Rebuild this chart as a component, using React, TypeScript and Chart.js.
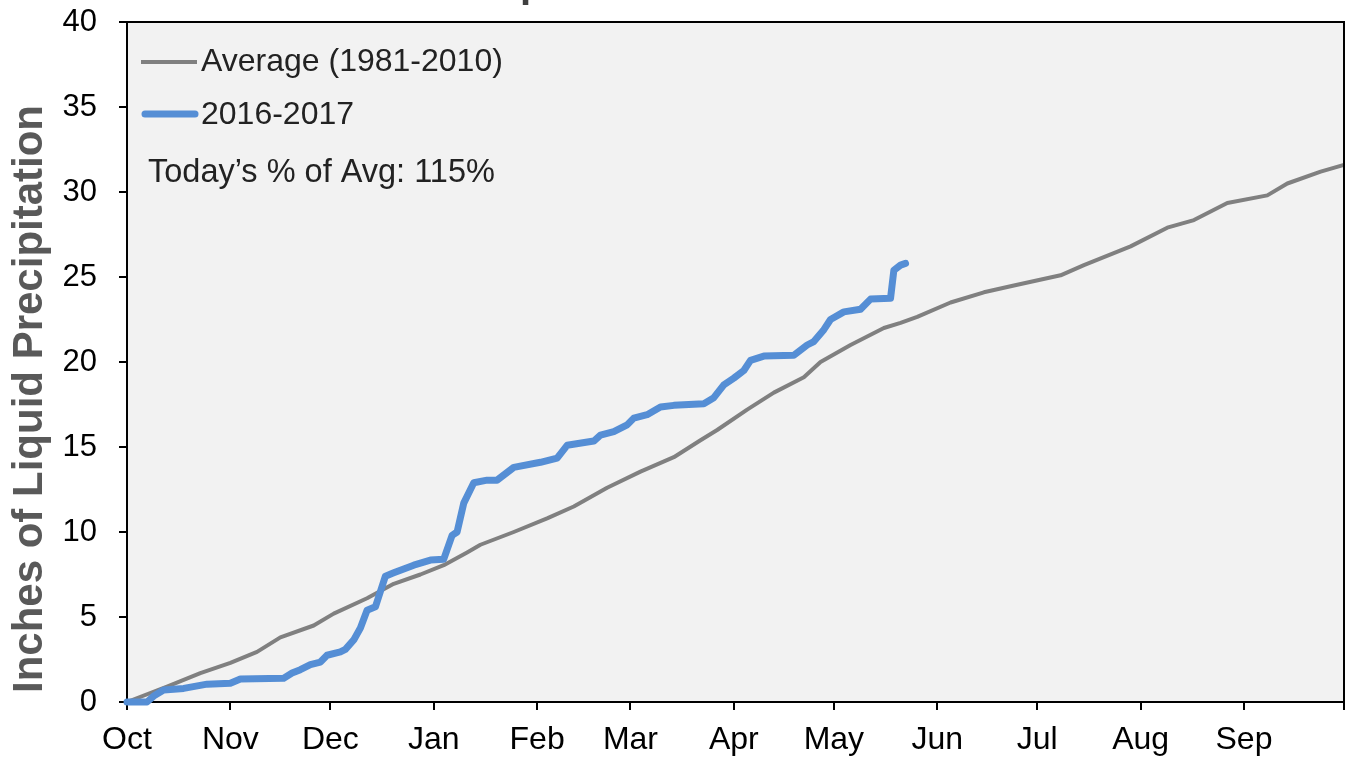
import React, { useEffect, useRef } from "react";
import { Chart, registerables } from "chart.js";

Chart.register(...registerables);

// Days since Oct 1 (water year) at which each month starts
const MONTH_TICKS = [0, 31, 61, 92, 123, 151, 182, 212, 243, 273, 304, 335, 365];
const MONTH_LABELS = ["Oct", "Nov", "Dec", "Jan", "Feb", "Mar", "Apr", "May", "Jun", "Jul", "Aug", "Sep", ""];

// Average (1981-2010) cumulative precipitation
const AVG_DAYS = [0, 12, 22, 31, 39, 46, 56, 62, 72, 80, 88, 95, 102, 106, 116, 126, 134, 144, 154, 164, 172, 177, 186, 194, 203, 208, 217, 227, 232, 237, 247, 257, 266, 280, 287, 301, 312, 320, 330, 342, 348, 358, 365];
const AVG_VALUES = [0, 0.9, 1.7, 2.3, 2.95, 3.8, 4.5, 5.2, 6.1, 6.95, 7.5, 8.05, 8.8, 9.25, 10.0, 10.8, 11.5, 12.6, 13.55, 14.4, 15.4, 16.0, 17.2, 18.2, 19.1, 20.0, 21.0, 22.0, 22.3, 22.65, 23.5, 24.1, 24.5, 25.1, 25.7, 26.8, 27.9, 28.35, 29.35, 29.8, 30.5, 31.2, 31.6];

// 2016-2017 cumulative precipitation
const CUR_DAYS = [0, 6, 8, 11, 17, 24, 31, 34, 47, 49.5, 52, 55, 58, 60, 64, 65.5, 68, 70, 72, 74.5, 76, 77.5, 80, 86, 91, 95, 97.5, 99, 101, 104, 108, 111, 116, 124, 129, 132, 140, 142, 146, 150, 152, 156, 160, 164, 173, 176, 179, 182, 185, 187, 191, 200, 204, 206, 209, 211, 215, 220, 223, 229, 230, 232, 233.5];
const CUR_VALUES = [0, 0, 0.35, 0.7, 0.8, 1.05, 1.1, 1.35, 1.4, 1.7, 1.9, 2.2, 2.35, 2.75, 2.95, 3.1, 3.65, 4.35, 5.4, 5.6, 6.5, 7.4, 7.6, 8.05, 8.35, 8.4, 9.8, 10.0, 11.7, 12.9, 13.05, 13.05, 13.8, 14.1, 14.35, 15.1, 15.35, 15.7, 15.9, 16.3, 16.7, 16.9, 17.35, 17.45, 17.55, 17.9, 18.65, 19.05, 19.5, 20.1, 20.35, 20.4, 21.0, 21.2, 21.9, 22.5, 22.95, 23.1, 23.7, 23.75, 25.4, 25.7, 25.8];

const TITLE = "Water Year Precipitation";
const Y_TITLE = "Inches of Liquid Precipitation";
const LEGEND_AVG = "Average (1981-2010)";
const LEGEND_CUR = "2016-2017";
const NOTE = "Today\u2019s % of Avg: 115%";

const FONT = "'Liberation Sans', Arial, sans-serif";
const GRAY = "#808080";
const BLUE = "#558ED5";

const decorPlugin = {
  id: "decor",
  beforeDraw(chart: any) {
    const { ctx, chartArea: a } = chart;
    ctx.save();
    ctx.fillStyle = "#ffffff";
    ctx.fillRect(0, 0, chart.width, chart.height);
    ctx.fillStyle = "#f2f2f2";
    ctx.fillRect(a.left, a.top, a.right - a.left, a.bottom - a.top);
    ctx.restore();
  },
  afterDraw(chart: any) {
    const { ctx, chartArea: a } = chart;
    ctx.save();
    // frame top/right
    ctx.strokeStyle = "#000";
    ctx.lineWidth = 2;
    ctx.beginPath();
    ctx.moveTo(a.left, a.top);
    ctx.lineTo(a.right, a.top);
    ctx.lineTo(a.right, a.bottom);
    ctx.stroke();

    // title (mostly off the top of the canvas)
    ctx.font = `bold 40px ${FONT}`;
    ctx.fillStyle = "#404040";
    ctx.textBaseline = "alphabetic";
    ctx.textAlign = "left";
    const prefix = ctx.measureText("Water Year Preci").width;
    ctx.fillText(TITLE, 520 - prefix, -3);

    // y title
    ctx.save();
    ctx.translate(42, 399);
    ctx.rotate(-Math.PI / 2);
    ctx.font = `bold 42px ${FONT}`;
    ctx.fillStyle = "#595959";
    ctx.textAlign = "center";
    ctx.textBaseline = "alphabetic";
    ctx.fillText(Y_TITLE, 0, 0);
    ctx.restore();

    // legend
    ctx.lineCap = "butt";
    ctx.strokeStyle = GRAY;
    ctx.lineWidth = 4;
    ctx.beginPath();
    ctx.moveTo(141, 62);
    ctx.lineTo(197, 62);
    ctx.stroke();
    ctx.strokeStyle = BLUE;
    ctx.lineWidth = 7;
    ctx.lineCap = "round";
    ctx.beginPath();
    ctx.moveTo(145, 114);
    ctx.lineTo(195, 114);
    ctx.stroke();

    ctx.font = `32px ${FONT}`;
    ctx.fillStyle = "#222";
    ctx.textAlign = "left";
    ctx.textBaseline = "middle";
    ctx.fillText(LEGEND_AVG, 201, 62);
    ctx.fillText(LEGEND_CUR, 201, 115);
    ctx.font = `32.5px ${FONT}`;
    ctx.fillText(NOTE, 148, 173);
    ctx.restore();
  },
};

export default function App() {
  const ref = useRef<HTMLCanvasElement | null>(null);

  useEffect(() => {
    if (!ref.current) return;
    const chart = new Chart(ref.current, {
      type: "line",
      data: {
        datasets: [
          {
            label: LEGEND_CUR,
            data: CUR_DAYS.map((d, i) => ({ x: d, y: CUR_VALUES[i] })),
            borderColor: BLUE,
            borderWidth: 7,
            borderJoinStyle: "round",
            borderCapStyle: "round",
            pointRadius: 0,
            tension: 0,
            clip: false,
          },
          {
            label: LEGEND_AVG,
            data: AVG_DAYS.map((d, i) => ({ x: d, y: AVG_VALUES[i] })),
            borderColor: GRAY,
            borderWidth: 4,
            borderJoinStyle: "round",
            pointRadius: 0,
            tension: 0,
            clip: false,
          },
        ],
      },
      options: {
        responsive: false,
        animation: false,
        devicePixelRatio: 1,
        layout: { padding: { left: 0, top: 22, right: 5, bottom: 0 } },
        plugins: {
          legend: { display: false },
          tooltip: { enabled: false },
          title: { display: false },
        },
        scales: {
          x: {
            type: "linear",
            min: 0,
            max: 365,
            afterFit: (s: any) => {
              s.height = 57;
              s.paddingLeft = 0;
              s.paddingRight = 0;
            },
            afterBuildTicks: (s: any) => {
              s.ticks = MONTH_TICKS.map((v) => ({ value: v }));
            },
            grid: {
              drawOnChartArea: false,
              drawTicks: true,
              tickLength: 8,
              color: "#000",
              lineWidth: 2,
            },
            border: { display: true, color: "#000", width: 2 },
            ticks: {
              autoSkip: false,
              maxRotation: 0,
              padding: 11,
              color: "#000",
              font: { family: FONT, size: 32 },
              callback: (_v: any, i: number) => MONTH_LABELS[i],
            },
          },
          y: {
            min: 0,
            max: 40,
            afterFit: (s: any) => {
              s.width = 127;
              s.paddingTop = 0;
              s.paddingBottom = 0;
            },
            grid: {
              drawOnChartArea: false,
              drawTicks: true,
              tickLength: 8,
              color: "#000",
              lineWidth: 2,
            },
            border: { display: true, color: "#000", width: 2 },
            ticks: {
              stepSize: 5,
              padding: 22,
              color: "#000",
              font: { family: FONT, size: 31 },
            },
          },
        },
      },
      plugins: [decorPlugin],
    } as any);
    return () => chart.destroy();
  }, []);

  return (
    <div style={{ position: "fixed", left: 0, top: 0, width: 1349, height: 759, background: "#fff" }}>
      <canvas ref={ref} width={1349} height={759} style={{ width: 1349, height: 759, display: "block" }} />
    </div>
  );
}
